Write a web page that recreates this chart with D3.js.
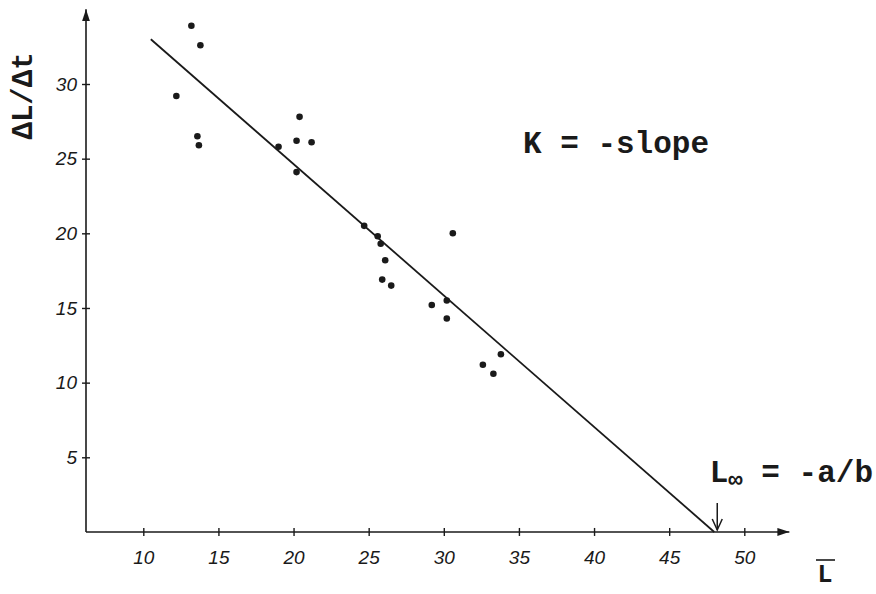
<!DOCTYPE html>
<html>
<head>
<meta charset="utf-8">
<script src="https://cdn.jsdelivr.net/npm/d3@7/dist/d3.min.js"></script>
<style>
  html, body { margin: 0; padding: 0; background: #fff; }
  svg { display: block; }
  .tick text { font-family: "Liberation Sans", Arial, sans-serif; font-style: italic; font-size: 19px; fill: #1a1a1a; }
  .note { font-family: "Liberation Mono", "DejaVu Sans Mono", monospace; font-weight: bold; fill: #1a1a1a; }
</style>
</head>
<body>
<script>
// Growth increment vs. mean length (Gulland-Holt style plot)
const meanLength = [13.2, 13.8, 12.2, 13.6, 13.7, 19.0, 20.4, 20.2, 21.2, 20.2,
                    24.7, 25.6, 25.8, 30.6, 26.1, 25.9, 26.5, 29.2, 30.2, 30.2,
                    33.8, 32.6, 33.3];
const growthRate = [33.9, 32.6, 29.2, 26.5, 25.9, 25.8, 27.8, 26.2, 26.1, 24.1,
                    20.5, 19.8, 19.3, 20.0, 18.2, 16.9, 16.5, 15.2, 15.5, 14.3,
                    11.9, 11.2, 10.6];
// Fitted straight line (start, and its crossing of the length axis at L-infinity)
const fitLength = [10.5, 48];
const fitRate = [33.0, 0];
const xTicks = [10, 15, 20, 25, 30, 35, 40, 45, 50];
const yTicks = [5, 10, 15, 20, 25, 30];

const W = 876, H = 594;
const svg = d3.select("body").append("svg").attr("width", W).attr("height", H);

const x = d3.scaleLinear().domain([10, 50]).range([143.3, 744.3]);
const y = d3.scaleLinear().domain([5, 30]).range([457.3, 84]);

const ink = "#1a1a1a";

// arrow heads for the axes
const defs = svg.append("defs");
defs.append("marker")
  .attr("id", "arrow")
  .attr("viewBox", "0 0 12 8")
  .attr("refX", 12).attr("refY", 4)
  .attr("markerWidth", 12).attr("markerHeight", 8)
  .attr("markerUnits", "userSpaceOnUse")
  .attr("orient", "auto")
  .append("path").attr("d", "M0,0 L12,4 L0,8 Z").attr("fill", ink);

const x0 = x.invert(86);   // where the vertical axis stands

// x axis
const xAxis = svg.append("g")
  .attr("transform", `translate(0,${y(0)})`)
  .call(d3.axisBottom(x).tickValues(xTicks).tickSizeInner(0).tickSizeOuter(0).tickPadding(19));
xAxis.select(".domain").remove();
xAxis.selectAll(".tick line").attr("y1", -4).attr("y2", 4).attr("stroke", ink).attr("stroke-width", 1.4);

// y axis
const yAxis = svg.append("g")
  .attr("transform", `translate(${x(x0)},0)`)
  .call(d3.axisLeft(y).tickValues(yTicks).tickSizeInner(0).tickSizeOuter(0).tickPadding(9));
yAxis.select(".domain").remove();
yAxis.selectAll(".tick line").attr("x1", -4).attr("x2", 4).attr("stroke", ink).attr("stroke-width", 1.4);

// axis lines with arrows
svg.append("path")
  .attr("d", `M${x(x0)},${y(0)} H${x(53.0)}`)
  .attr("stroke", ink).attr("stroke-width", 1.6).attr("fill", "none")
  .attr("marker-end", "url(#arrow)");
svg.append("path")
  .attr("d", `M${x(x0)},${y(0)} V${y(35)}`)
  .attr("stroke", ink).attr("stroke-width", 1.6).attr("fill", "none")
  .attr("marker-end", "url(#arrow)");

// fitted line
svg.append("path")
  .datum(d3.zip(fitLength, fitRate))
  .attr("d", d3.line().x(d => x(d[0])).y(d => y(d[1])))
  .attr("stroke", ink).attr("stroke-width", 1.8).attr("fill", "none");

// observations
svg.append("g").selectAll("circle")
  .data(d3.zip(meanLength, growthRate))
  .join("circle")
  .attr("cx", d => x(d[0])).attr("cy", d => y(d[1]))
  .attr("r", 3.3).attr("fill", ink);

// y label
svg.append("text").attr("class", "note")
  .attr("transform", `translate(32,${y(29.2)}) rotate(-90)`)
  .attr("text-anchor", "middle")
  .attr("font-size", 29)
  .text("ΔL/Δt");

// x label (L with an overbar)
svg.append("text").attr("class", "note")
  .attr("x", 825).attr("y", 582)
  .attr("text-anchor", "middle")
  .attr("font-size", 25)
  .text("L");
svg.append("line")
  .attr("x1", 816).attr("x2", 835).attr("y1", 560).attr("y2", 560)
  .attr("stroke", ink).attr("stroke-width", 1.6);

// annotations
svg.append("text").attr("class", "note")
  .attr("x", 523).attr("y", 153)
  .attr("font-size", 31)
  .text("K = -slope");

const linf = svg.append("text").attr("class", "note")
  .attr("x", 873).attr("y", 482)
  .attr("text-anchor", "end")
  .attr("font-size", 31);
linf.append("tspan").text("L");
linf.append("tspan").attr("font-size", 24).attr("dy", 5).text("∞");
linf.append("tspan").attr("dy", -5).text(" = -a/b");

// arrow pointing at L-infinity on the length axis
const lx = x(fitLength[1]) + 3;
svg.append("line")
  .attr("x1", lx).attr("x2", lx).attr("y1", 503).attr("y2", y(0) - 2)
  .attr("stroke", ink).attr("stroke-width", 1.5);
svg.append("path")
  .attr("d", `M${lx - 5},${y(0) - 13} L${lx},${y(0) - 2} L${lx + 5},${y(0) - 13}`)
  .attr("stroke", ink).attr("stroke-width", 1.5).attr("fill", "none");
</script>
</body>
</html>
